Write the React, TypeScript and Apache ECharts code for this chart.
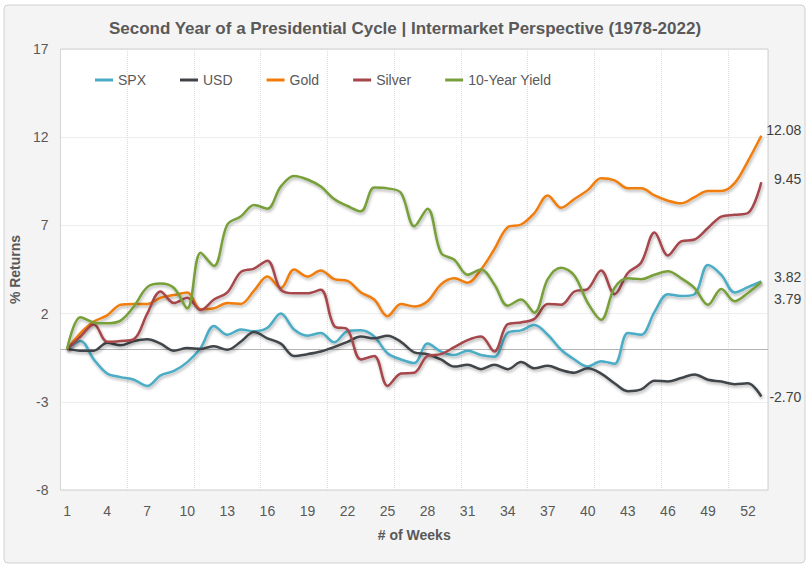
import React, { useEffect, useRef } from "react";
import * as echarts from "echarts";

const weeks: string[] = Array.from({ length: 53 }, (_, i) => String(i + 1));

const seriesNames = ["SPX", "USD", "Gold", "Silver", "10-Year Yield"];

const spx = [
  0, 0.45, -0.6, -1.4, -1.6, -1.75, -2.1, -1.5, -1.25, -0.75,
  0.05, 1.3, 0.8, 1.1, 1.0, 1.2, 2.0, 1.1, 0.75, 0.9,
  0.37, 1.0, 1.05, 0.7, -0.25, -0.6, -0.8, 0.3, -0.15, -0.35,
  -0.1, -0.35, -0.45, 0.9, 1.05, 1.35, 0.8, -0.05, -0.6, -1.0,
  -0.7, -0.85, 0.9, 0.8, 2.1, 3.1, 3.0, 3.1, 4.75, 4.2,
  3.2, 3.5, 3.82,
];

const usd = [
  0, -0.1, -0.1, 0.35, 0.2, 0.45, 0.55, 0.3, -0.1, 0.05,
  0, 0.15, -0.05, 0.4, 0.95, 0.6, 0.3, -0.4, -0.3, -0.15,
  0.1, 0.4, 0.7, 0.6, 0.75, 0.4, -0.2, -0.3, -0.6, -1.0,
  -0.9, -1.15, -0.9, -1.15, -0.75, -1.1, -0.95, -1.2, -1.35, -1.1,
  -1.4, -1.95, -2.4, -2.3, -1.8, -1.85, -1.65, -1.45, -1.75, -1.85,
  -2.0, -1.95, -2.7,
];

const gold = [
  0, 0.9, 1.55, 1.9, 2.5, 2.55, 2.55, 2.9, 3.05, 3.2,
  2.25, 2.3, 2.6, 2.55, 3.3, 4.1, 3.45, 4.5, 4.1, 4.45,
  3.95, 3.85, 3.2, 2.8, 1.85, 2.55, 2.4, 2.7, 3.65, 4.0,
  3.75, 4.5, 5.65, 6.9, 7.05, 7.7, 8.7, 8.0, 8.5, 9.0,
  9.67, 9.55, 9.1, 9.1, 8.7, 8.4, 8.25, 8.6, 8.95, 8.95,
  9.4, 10.65, 12.08,
];

const silver = [
  0, 0.7, 1.4, 0.4, 0.45, 0.55, 2.0, 3.25, 2.6, 2.9,
  2.2, 2.8, 3.2, 4.35, 4.55, 5.0, 3.35, 3.15, 3.15, 3.35,
  1.3, 1.1, -0.6, -0.4, -2.1, -1.4, -1.35, -0.4, -0.3, 0.1,
  0.5, 0.7, -0.15, 1.4, 1.5, 1.7, 2.55, 2.5, 3.25, 3.4,
  4.45, 3.1, 4.3, 4.9, 6.6, 5.3, 6.1, 6.2, 6.85, 7.5,
  7.6, 7.7, 9.45,
];

const yield10 = [
  0, 1.8, 1.5, 1.45, 1.6, 2.4, 3.5, 3.7, 3.45, 2.3,
  5.45, 4.7, 7.05, 7.5, 8.15, 7.95, 9.2, 9.8, 9.6, 9.2,
  8.5, 8.1, 7.8, 9.15, 9.1, 8.85, 6.95, 7.95, 5.45, 5.05,
  4.2, 4.5, 3.65, 2.45, 2.8, 2.05, 3.95, 4.6, 4.15, 2.6,
  1.65, 3.45, 4.0, 3.95, 4.2, 4.4, 4.0, 3.45, 2.5, 3.4,
  2.7, 3.17, 3.79,
];

const seriesData = [spx, usd, gold, silver, yield10];
const colors = ["#4bacc6", "#404448", "#f07d0a", "#a5464b", "#77a03a"];
const endLabelDy = [-4, 0, -6, -3, 17];

const yTicks = { min: -8, max: 17, interval: 5 };

const FONT = "'Liberation Sans', Arial, sans-serif";
const TXT = "#595959";

export default function App() {
  const ref = useRef<HTMLDivElement>(null);

  useEffect(() => {
    if (!ref.current) return;
    const chart = echarts.init(ref.current, null, { renderer: "svg" });

    const series = seriesNames.map((name, i) => ({
      name,
      type: "line",
      data: seriesData[i],
      smooth: 0.35,
      showSymbol: false,
      symbol: "none",
      z: 3 + i,
      lineStyle: {
        width: 2.5,
        color: colors[i],
        shadowColor: "rgba(0,0,0,0.3)",
        shadowBlur: 3,
        shadowOffsetX: 1,
        shadowOffsetY: 2,
      },
      itemStyle: { color: colors[i] },
      endLabel: {
        show: true,
        formatter: (p: any) => Number(p.value).toFixed(2),
        color: "#404040",
        fontFamily: FONT,
        fontSize: 14,
        align: "right",
        distance: 0,
        offset: [40, endLabelDy[i]],
      },
      ...(i === 0
        ? {
            markLine: {
              silent: true,
              symbol: "none",
              label: { show: false },
              lineStyle: { color: "#b4b4b4", width: 1, type: "solid" },
              data: [{ yAxis: 0 }],
              z: 1,
            },
          }
        : {}),
    }));

    chart.setOption({
      animation: false,
      backgroundColor: "transparent",
      textStyle: { fontFamily: FONT },
      graphic: [
        {
          type: "rect",
          shape: { x: 4, y: 5, width: 801, height: 558, r: 4 },
          style: { fill: "#f4f4f4", stroke: "#d0d0d0", lineWidth: 1 },
          z: -10,
          silent: true,
        },
      ],
      title: {
        text: "Second Year of a Presidential Cycle | Intermarket Perspective (1978-2022)",
        left: "center",
        top: 15,
        textStyle: { fontFamily: FONT, fontSize: 17, fontWeight: "bold", color: TXT },
      },
      legend: {
        left: 90,
        top: 68,
        itemWidth: 18,
        itemHeight: 3,
        itemGap: 34,
        icon: "rect",
        data: seriesNames,
        textStyle: { fontFamily: FONT, fontSize: 14, color: TXT },
      },
      grid: {
        left: 49,
        right: 42,
        top: 49,
        bottom: 79,
        show: true,
        backgroundColor: "#ffffff",
        borderColor: "#d0d0d0",
        borderWidth: 1,
      },
      xAxis: {
        type: "category",
        data: weeks,
        boundaryGap: true,
        name: "# of Weeks",
        nameLocation: "middle",
        nameGap: 38,
        nameTextStyle: { fontFamily: FONT, fontSize: 14, fontWeight: "bold", color: TXT },
        axisLine: { show: false },
        axisTick: { show: false },
        axisLabel: { interval: 2, margin: 14, fontSize: 14, color: TXT, fontFamily: FONT },
        splitLine: {
          show: true,
          interval: 4,
          lineStyle: { color: "#dcdcdc", type: "dotted", width: 1 },
        },
      },
      yAxis: {
        type: "value",
        min: yTicks.min,
        max: yTicks.max,
        interval: yTicks.interval,
        name: "% Returns",
        nameLocation: "middle",
        nameGap: 30,
        nameRotate: 90,
        nameTextStyle: { fontFamily: FONT, fontSize: 14, fontWeight: "bold", color: TXT },
        axisLine: { show: false },
        axisTick: { show: false },
        axisLabel: { margin: 12, fontSize: 14, color: TXT, fontFamily: FONT },
        splitLine: { show: true, lineStyle: { color: "#dcdcdc", type: "dotted", width: 1 } },
      },
      series,
    });

    return () => chart.dispose();
  }, []);

  return (
    <div
      ref={ref}
      style={{ position: "fixed", left: 0, top: 0, width: 810, height: 569, background: "#ffffff" }}
    />
  );
}
